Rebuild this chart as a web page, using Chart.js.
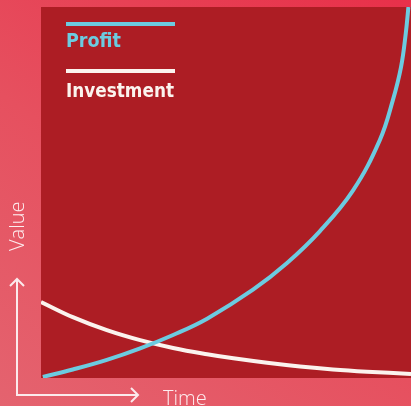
<!DOCTYPE html>
<html>
<head>
<meta charset="utf-8">
<script src="https://cdn.jsdelivr.net/npm/chart.js@4"></script>
<style>
  html, body { margin: 0; padding: 0; }
  body {
    width: 411px; height: 406px; overflow: hidden;
    background: linear-gradient(35deg, #e4636f 0%, #e6505f 45%, #e8304a 100%);
  }
  #wrap { position: relative; width: 411px; height: 406px; }
</style>
</head>
<body>
<div id="wrap"><canvas id="chart" width="411" height="406"></canvas></div>
<script>
// values (0-100 on both axes)
const profitX = [0.5, 8.6, 17.8, 26.8, 35.7, 44.9, 57.3, 66.5, 75.4, 84.3, 91.6, 95.1, 97.3, 98.6, 99.3];
const profitY = [0.3, 2.3, 4.9, 8.0, 11.6, 16.0, 23.8, 31.0, 39.6, 50.5, 64.2, 74.9, 83.8, 93.0, 100];
const investX = [0, 8.6, 17.8, 26.8, 35.7, 44.9, 52, 61.1, 70.0, 78.9, 88.1, 100];
const investY = [20.5, 16.4, 12.9, 10.2, 8.1, 6.4, 5.3, 4.1, 3.1, 2.3, 1.7, 1.1];
const seriesNames = ['Profit', 'Investment'];
const axisNames = ['Value', 'Time'];

const blue = '#6ccbe0';
const white = '#fbf3ee';

// dark red square behind the lines
const plotBg = {
    id: 'plotBg',
    beforeDraw(chart) {
        const { ctx, chartArea: a } = chart;
        ctx.save();
        ctx.fillStyle = '#ad1d24';
        ctx.fillRect(a.left, a.top, a.right - a.left, a.bottom - a.top);
        ctx.restore();
    }
};

// legend with a line above each name, plus arrow axes
const extras = {
    id: 'extras',
    afterDraw(chart) {
        const ctx = chart.ctx;
        ctx.save();
        // legend
        const items = [[seriesNames[0], blue, 24, 47], [seriesNames[1], white, 71, 97]];
        ctx.lineCap = 'butt';
        items.forEach(([txt, col, ly, ty]) => {
            ctx.strokeStyle = col;
            ctx.lineWidth = 4;
            ctx.beginPath();
            ctx.moveTo(66, ly);
            ctx.lineTo(175, ly);
            ctx.stroke();
            ctx.fillStyle = col;
            ctx.font = 'bold 19px "DejaVu Sans Condensed", "DejaVu Sans", sans-serif';
            ctx.textBaseline = 'alphabetic';
            ctx.textAlign = 'left';
            const w = ctx.measureText(txt).width;
            const target = txt === 'Investment' ? 108 : 55;
            ctx.save();
            ctx.translate(66, ty);
            ctx.scale(Math.min(1.1, target / w), 1);
            ctx.fillText(txt, 0, 0);
            ctx.restore();
        });

        // arrow axes
        ctx.strokeStyle = '#fbeaec';
        ctx.lineWidth = 2;
        ctx.lineJoin = 'miter';
        ctx.beginPath();
        ctx.moveTo(17, 279);
        ctx.lineTo(17, 395);
        ctx.lineTo(138, 395);
        ctx.stroke();
        ctx.beginPath();
        ctx.moveTo(10, 286);
        ctx.lineTo(17, 279);
        ctx.lineTo(24, 286);
        ctx.stroke();
        ctx.beginPath();
        ctx.moveTo(131, 388);
        ctx.lineTo(138, 395);
        ctx.lineTo(131, 402);
        ctx.stroke();

        ctx.fillStyle = '#fdeef0';
        ctx.font = '300 20px "Open Sans", Lato, sans-serif';
        ctx.textAlign = 'left';
        ctx.textBaseline = 'alphabetic';
        ctx.fillText(axisNames[1], 163, 405);
        ctx.save();
        ctx.translate(24, 251);
        ctx.rotate(-Math.PI / 2);
        ctx.fillText(axisNames[0], 0, 0);
        ctx.restore();
        ctx.restore();
    }
};

new Chart(document.getElementById('chart'), {
    type: 'line',
    data: {
        datasets: [
            {
                label: seriesNames[0],
                data: profitX.map((x, i) => ({ x: x, y: profitY[i] })),
                borderColor: blue,
                borderWidth: 4,
                pointRadius: 0,
                tension: 0.4,
                fill: false
            },
            {
                label: seriesNames[1],
                data: investX.map((x, i) => ({ x: x, y: investY[i] })),
                borderColor: white,
                borderWidth: 4,
                pointRadius: 0,
                tension: 0.4,
                fill: false
            }
        ]
    },
    options: {
        responsive: false,
        animation: false,
        layout: { padding: { left: 41, top: 7, right: 0, bottom: 28 } },
        scales: {
            x: { type: 'linear', min: 0, max: 100, display: false },
            y: { min: 0, max: 100, display: false }
        },
        plugins: {
            legend: { display: false },
            tooltip: { enabled: false }
        }
    },
    plugins: [plotBg, extras]
});
</script>
</body>
</html>
